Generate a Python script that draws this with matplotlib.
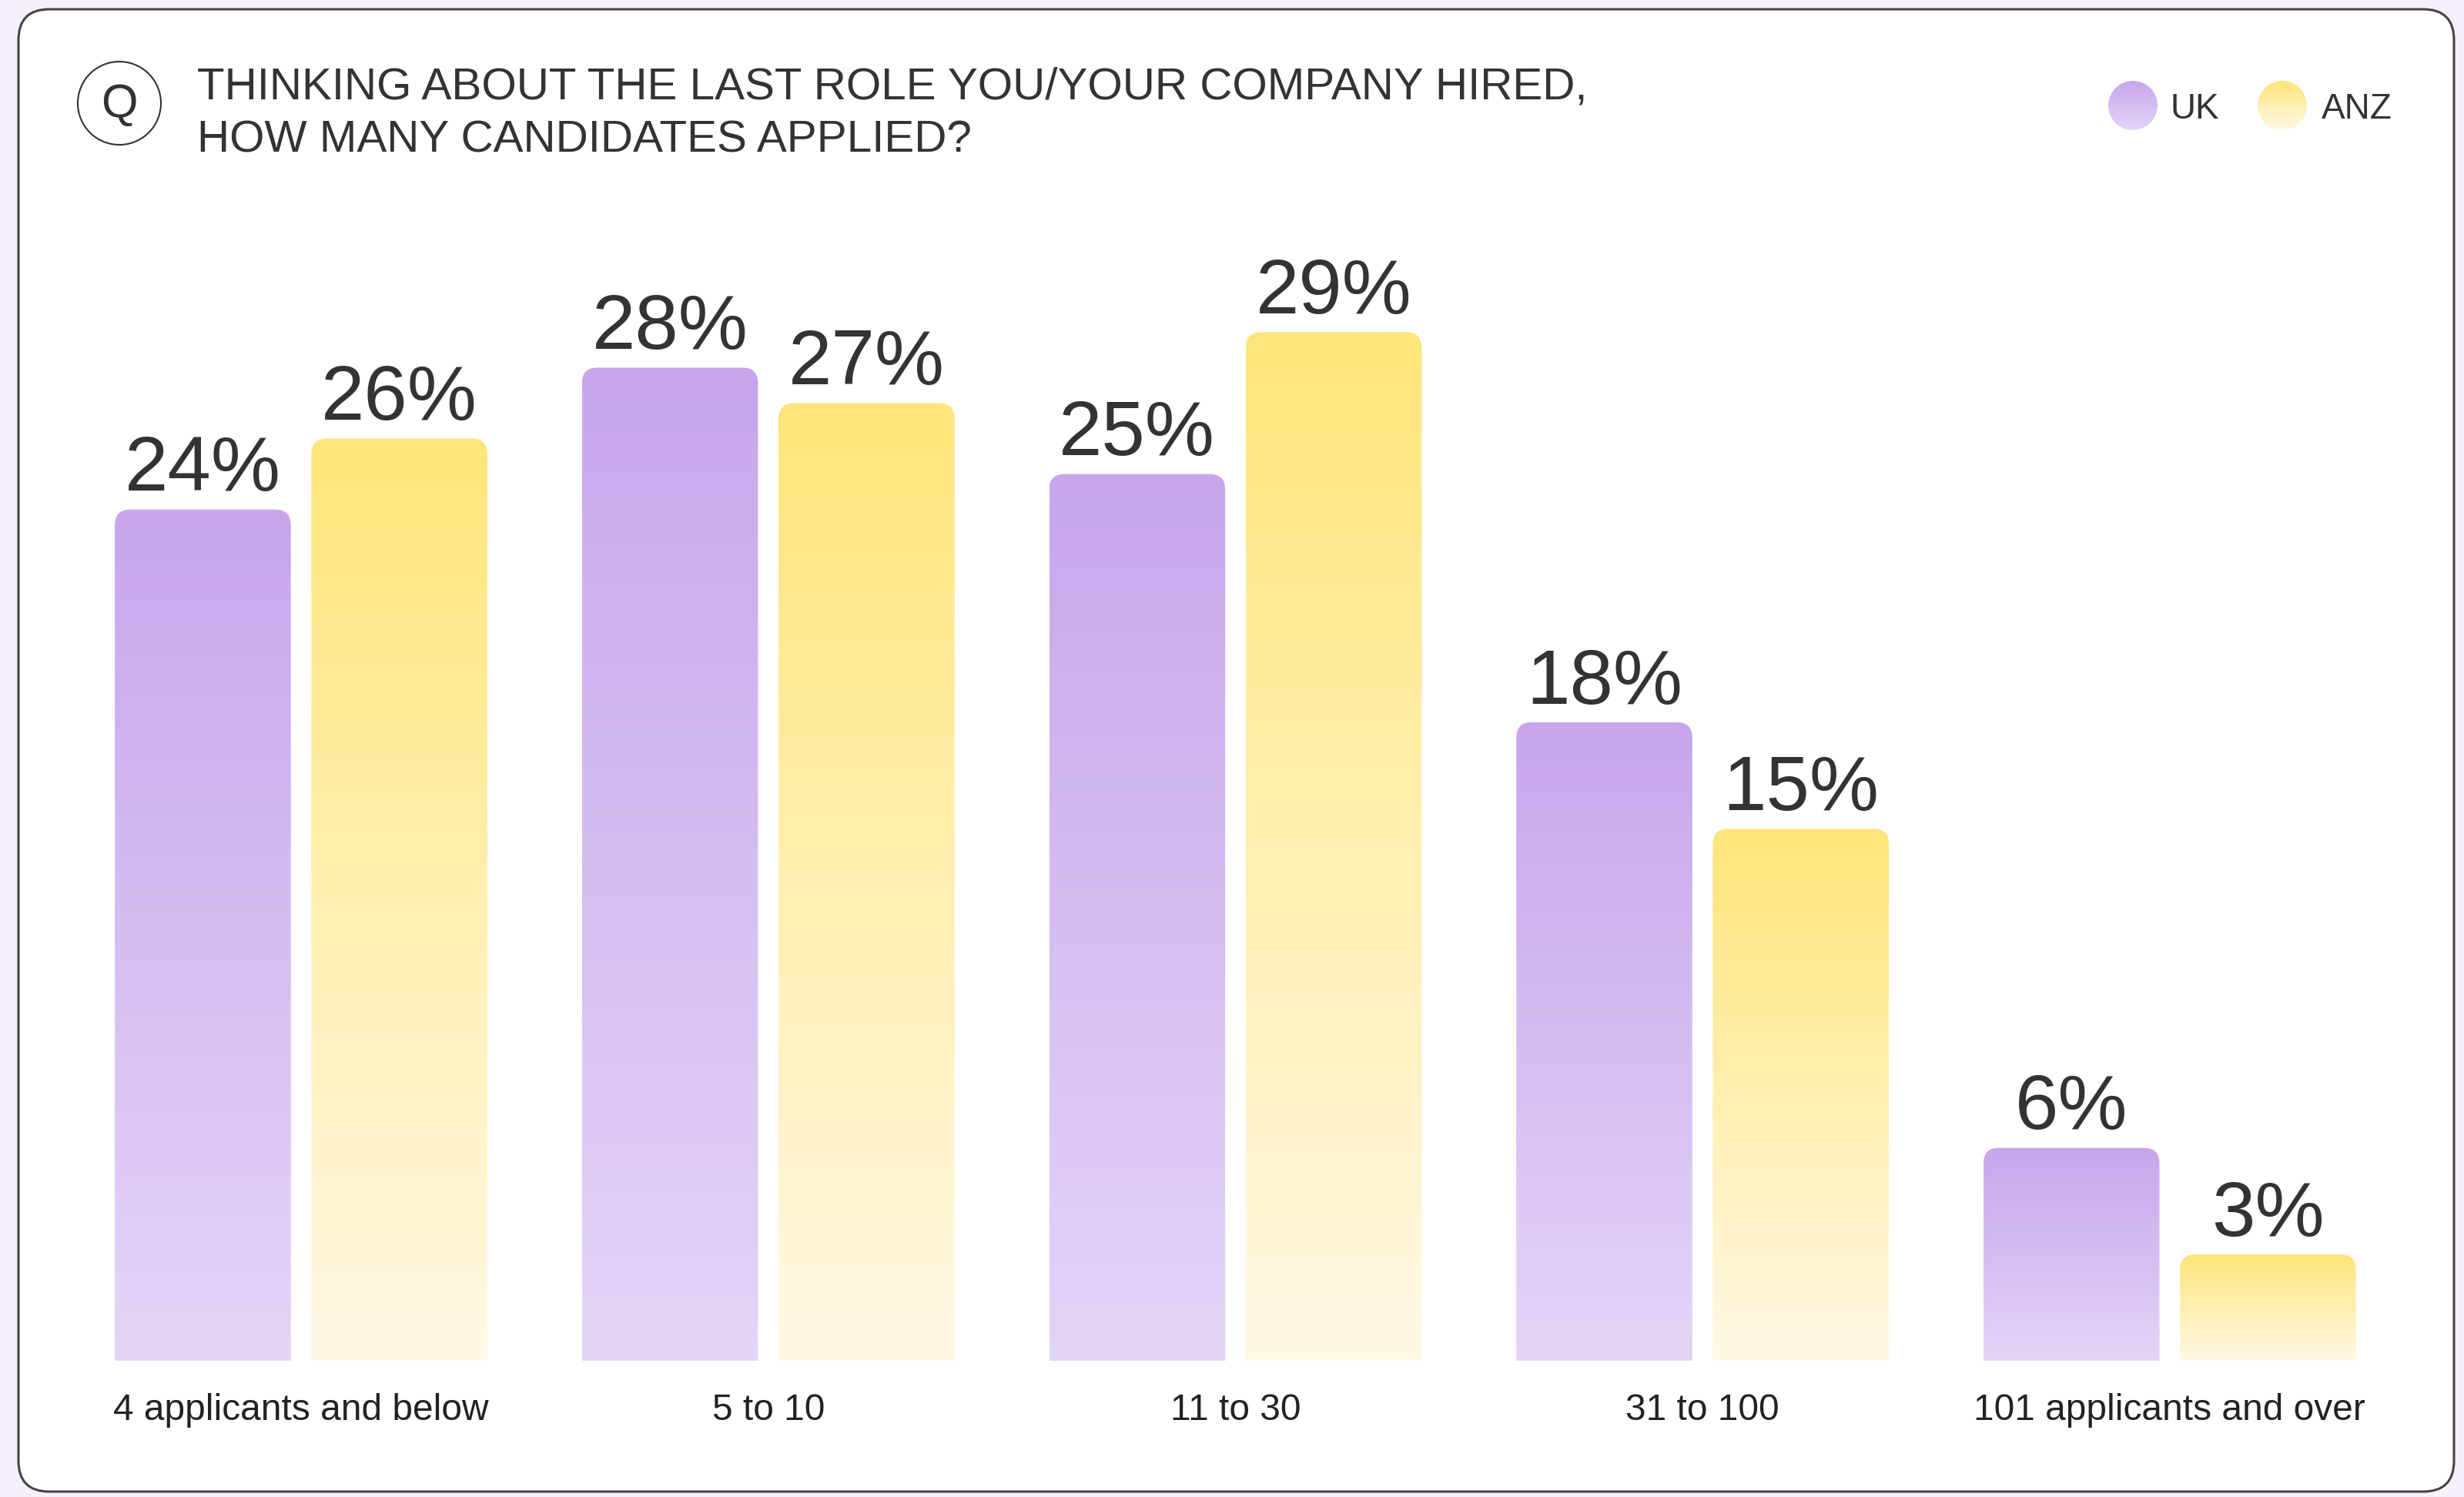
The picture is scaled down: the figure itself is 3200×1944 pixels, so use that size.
import numpy as np
import matplotlib
matplotlib.use("Agg")
import matplotlib.pyplot as plt
from matplotlib.patches import FancyBboxPatch, Circle
from matplotlib.colors import to_rgb

plt.rcParams['font.family'] = ['Liberation Sans', 'DejaVu Sans']

# ------------------------------------------------------------------ #
#  Données                                                             #
# ------------------------------------------------------------------ #
categories = ["4 applicants and below", "5 to 10", "11 to 30", "31 to 100",
              "101 applicants and over"]
uk = [24, 28, 25, 18, 6]
anz = [26, 27, 29, 15, 3]
series = ["UK", "ANZ"]
titre = ["THINKING ABOUT THE LAST ROLE YOU/YOUR COMPANY HIRED,",
         "HOW MANY CANDIDATES APPLIED?"]

# couleurs (haut, bas) des dégradés
UK_HAUT, UK_BAS = "#C7A6EC", "#E3D5F7"
ANZ_HAUT, ANZ_BAS = "#FFE57A", "#FFF9E6"
FOND = "#F5F0FC"
TEXTE = "#333333"

W, H = 3200, 1944
fig = plt.figure(figsize=(W / 100, H / 100), dpi=100, facecolor=FOND)

# axe de fond en pixels (y vers le bas) pour la carte, le titre et la légende
bg = fig.add_axes([0, 0, 1, 1], zorder=0)
bg.set_xlim(0, W)
bg.set_ylim(H, 0)
bg.axis('off')


def degrade(haut, bas, n=256):
    h = np.array(to_rgb(haut))
    b = np.array(to_rgb(bas))
    t = np.linspace(0, 1, n)[:, None]
    return (b + (h - b) * t)[:, None, :]   # ligne 0 = bas


carte = FancyBboxPatch((24, 12), 3163, 1925,
                       boxstyle="round,pad=0,rounding_size=40",
                       facecolor="white", edgecolor="#444444", lw=2.2, zorder=1)
bg.add_patch(carte)

# pastille Q + question
bg.add_patch(Circle((155, 134), 54, facecolor="none", edgecolor=TEXTE, lw=1.5,
                    zorder=3))
bg.text(155, 136, "Q", fontsize=44, color=TEXTE, ha='center', va='center')
bg.text(256, 128, titre[0], fontsize=42, color=TEXTE, va='baseline')
bg.text(256, 197, titre[1], fontsize=42, color=TEXTE, va='baseline')

# légende
for nom, cx, tx, (c_haut, c_bas) in zip(series, [2770, 2964], [2819, 3015],
                                        [(UK_HAUT, UK_BAS), (ANZ_HAUT, ANZ_BAS)]):
    r = 32
    rond = Circle((cx, 137), r, facecolor="none", edgecolor="none", zorder=3)
    bg.add_patch(rond)
    im = bg.imshow(degrade(c_haut, c_bas)[::-1], origin='upper',
                   extent=(cx - r, cx + r, 137 + r, 137 - r),
                   aspect='auto', interpolation='bilinear', zorder=4)
    im.set_clip_path(rond)
    bg.text(tx, 154, nom, fontsize=33, color=TEXTE, va='baseline')
bg.set_xlim(0, W)
bg.set_ylim(H, 0)

# ------------------------------------------------------------------ #
#  Barres                                                              #
# ------------------------------------------------------------------ #
ax = fig.add_axes([0, 177 / H, 1, 1658 / H], zorder=1)
ax.patch.set_alpha(0)

XMIN, XMAX = -0.6445, 4.630
YMAX = 36
largeur = 0.3768
decal = 0.2103
px_x = W / (XMAX - XMIN)
px_y = 1658 / YMAX
rayon = 20  # px

x = np.arange(len(categories))
for vals, dx, (c_haut, c_bas) in [(uk, -decal, (UK_HAUT, UK_BAS)),
                                  (anz, decal, (ANZ_HAUT, ANZ_BAS))]:
    barres = ax.bar(x + dx, vals, width=largeur, color="none", edgecolor="none")
    for rect, v in zip(barres, vals):
        x0, w, h = rect.get_x(), rect.get_width(), rect.get_height()
        rx = rayon / px_x
        ry = rayon / px_y
        forme = FancyBboxPatch((x0, -2 * ry), w, h + 2 * ry,
                               boxstyle=f"round,pad=0,rounding_size={rx}",
                               mutation_aspect=ry / rx,
                               facecolor="none", edgecolor="none")
        ax.add_patch(forme)
        im = ax.imshow(degrade(c_haut, c_bas), origin='lower',
                       extent=(x0, x0 + w, 0, h), aspect='auto',
                       interpolation='bilinear')
        im.set_clip_path(forme)
        ax.annotate(f"{v}%", (x0 + w / 2, h), xytext=(0, 17.5),
                    textcoords='offset points', ha='center', va='baseline',
                    fontsize=73, color=TEXTE)

ax.set_xlim(XMIN, XMAX)
ax.set_ylim(0, YMAX)
ax.set_xticks(x, categories, fontsize=34.5, color="#222222")
ax.tick_params(axis='x', length=0, pad=30)
ax.set_yticks([])
for s in ax.spines.values():
    s.set_visible(False)

fig.savefig("out.png", dpi=100, facecolor=FOND)
